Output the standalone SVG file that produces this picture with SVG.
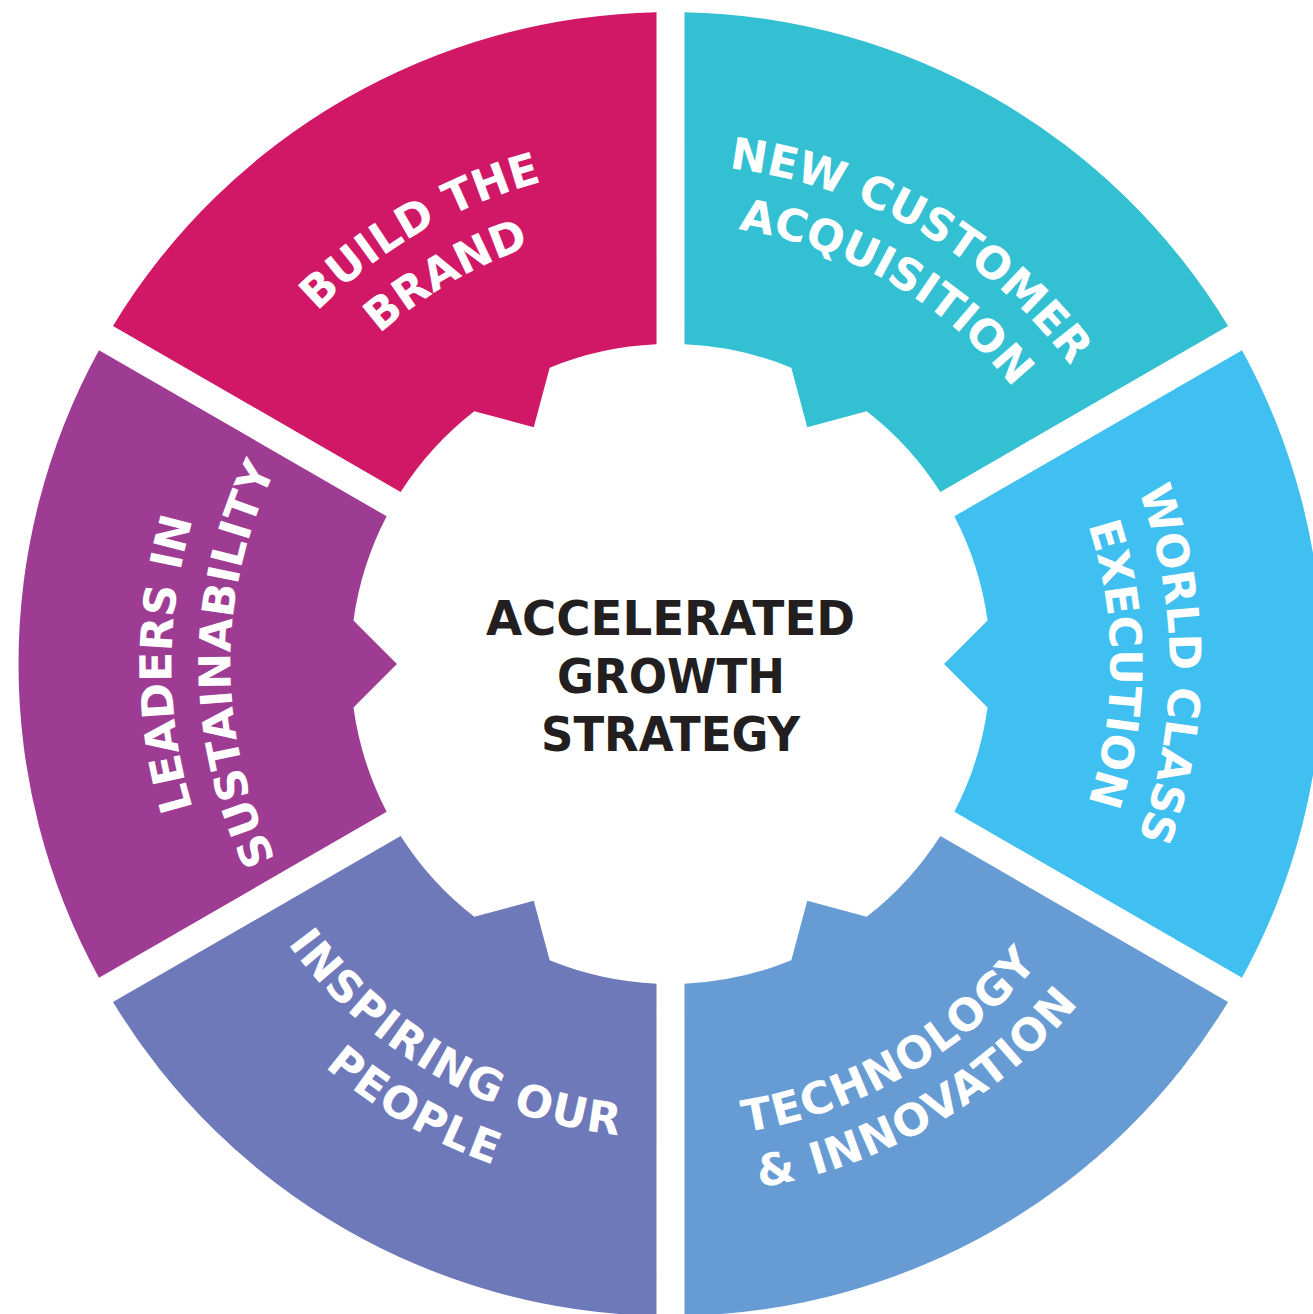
<svg xmlns="http://www.w3.org/2000/svg" xmlns:xlink="http://www.w3.org/1999/xlink" width="1313" height="1314" viewBox="0 0 1313 1314">
  <style>
    .lbl { font-family: "DejaVu Sans", "Liberation Sans", sans-serif; font-weight: bold; font-size: 44px; fill: #ffffff; }
    .wide { letter-spacing: 1.2px; }
    .core { font-family: "DejaVu Sans", "Liberation Sans", sans-serif; font-weight: bold; font-size: 48px; fill: #231f20; text-anchor: middle; }
  </style>
  <defs>
    <!-- One ring segment, centred on the +x axis: outer arc r=652, 28px gaps, gear-shaped inner edge (r=320 with a V notch) -->
    <path id="wedge" d="M571.52,-313.80 A652,652 0 0 1 571.52,313.80 L283.86,147.73 A320,320 0 0 0 317.03,43.53 L273.5,0 L317.03,-43.53 A320,320 0 0 0 283.86,-147.73 Z"/>
    <!-- Label baselines: letters pointing outward (clockwise reading) -->
    <path id="arcOutTop" d="M382.25,-320.75 A499,499 0 0 1 382.25,320.75"/>
    <path id="arcInTop" d="M337.06,-282.83 A440,440 0 0 1 337.06,282.83"/>
    <!-- Label baselines: letters pointing inward (counter-clockwise reading) -->
    <path id="arcInBot" d="M363.10,304.68 A474,474 0 0 0 363.10,-304.68"/>
    <path id="arcOutBot" d="M406.77,341.32 A531,531 0 0 0 406.77,-341.32"/>
  </defs>

  <rect width="1313" height="1314" fill="#ffffff"/>

  <g transform="translate(670.5 664)">
    <g id="node-world-class" transform="rotate(0)">
      <use href="#wedge" fill="#40c0f0"/>
      <text class="lbl"><textPath href="#arcOutTop" startOffset="50%" text-anchor="middle">WORLD CLASS</textPath></text>
      <text class="lbl"><textPath href="#arcInTop" startOffset="50%" text-anchor="middle">EXECUTION</textPath></text>
    </g>
    <g id="node-technology" transform="rotate(60)">
      <use href="#wedge" fill="#669bd3"/>
      <text class="lbl wide"><textPath href="#arcInBot" startOffset="50%" text-anchor="middle">TECHNOLOGY</textPath></text>
      <text class="lbl wide"><textPath href="#arcOutBot" startOffset="50%" text-anchor="middle">&amp; INNOVATION</textPath></text>
    </g>
    <g id="node-inspiring" transform="rotate(120)">
      <use href="#wedge" fill="#6e79b9"/>
      <text class="lbl wide"><textPath href="#arcInBot" startOffset="50%" text-anchor="middle">INSPIRING OUR</textPath></text>
      <text class="lbl wide"><textPath href="#arcOutBot" startOffset="50%" text-anchor="middle">PEOPLE</textPath></text>
    </g>
    <g id="node-leaders" transform="rotate(180)">
      <use href="#wedge" fill="#9e3c94"/>
      <text class="lbl"><textPath href="#arcOutTop" startOffset="50%" text-anchor="middle">LEADERS IN</textPath></text>
      <text class="lbl"><textPath href="#arcInTop" startOffset="50%" text-anchor="middle">SUSTAINABILITY</textPath></text>
    </g>
    <g id="node-brand" transform="rotate(240)">
      <use href="#wedge" fill="#d01866"/>
      <text class="lbl"><textPath href="#arcOutTop" startOffset="50%" text-anchor="middle">BUILD THE</textPath></text>
      <text class="lbl"><textPath href="#arcInTop" startOffset="50%" text-anchor="middle">BRAND</textPath></text>
    </g>
    <g id="node-acquisition" transform="rotate(300)">
      <use href="#wedge" fill="#33c0d3"/>
      <text class="lbl"><textPath href="#arcOutTop" startOffset="50%" text-anchor="middle">NEW CUSTOMER</textPath></text>
      <text class="lbl"><textPath href="#arcInTop" startOffset="50%" text-anchor="middle">ACQUISITION</textPath></text>
    </g>
  </g>

  <g id="node-core">
    <text class="core" x="670.5" y="635" textLength="369" lengthAdjust="spacingAndGlyphs">ACCELERATED</text>
    <text class="core" x="671" y="693" textLength="228" lengthAdjust="spacingAndGlyphs">GROWTH</text>
    <text class="core" x="670.5" y="751" textLength="259" lengthAdjust="spacingAndGlyphs">STRATEGY</text>
  </g>
</svg>
